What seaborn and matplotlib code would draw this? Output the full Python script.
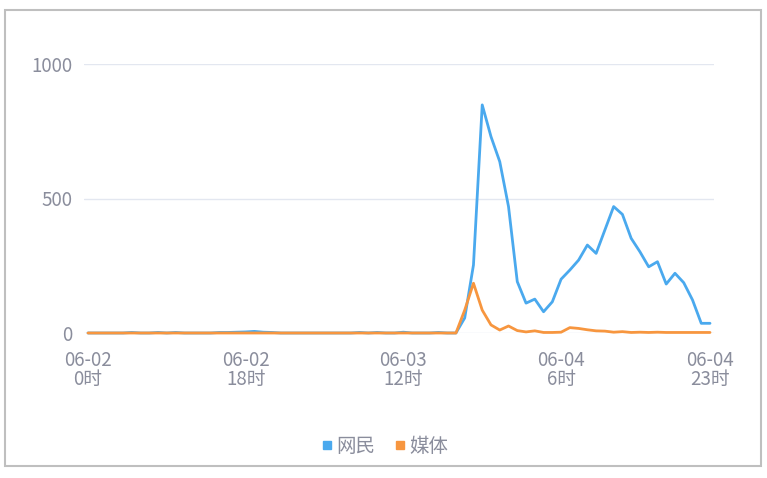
import numpy as np
import pandas as pd
import matplotlib
matplotlib.use("Agg")
import matplotlib.pyplot as plt
from matplotlib.patches import Rectangle
from matplotlib.lines import Line2D
import seaborn as sns

# ---- data (hourly, 06-02 0时 .. 06-04 23时) ----
hours = list(range(72))
netizens = [0, 0, 0, 0, 0, 2, 0, 0, 2, 0, 2, 0, 0, 0, 0, 2, 2, 3, 4, 6,
            3, 2, 0, 0, 0, 0, 0, 0, 0, 0, 0, 2, 0, 2, 0, 0, 3, 0, 0, 0,
            2, 0, 0, 56, 253, 848, 730, 637, 470, 191, 111, 126, 79, 116, 200, 234,
            271, 327, 296, 383, 470, 441, 352, 302, 246, 265, 182, 222, 187, 123,
            36, 36]
media = [0] * 42 + [0, 85, 185, 85, 30, 11, 26, 9, 4, 8, 2, 2, 3, 20,
                    17, 12, 8, 7, 3, 5, 2, 3, 2, 3, 2, 2, 2, 2, 2, 2]
media = media[:72]
series_names = ["网民", "媒体"]
tick_positions = [0, 18, 36, 54, 71]
tick_labels = ["06-02\n0时", "06-02\n18时", "06-03\n12时", "06-04\n6时", "06-04\n23时"]
y_ticks = [0, 500, 1000]

df = pd.DataFrame({
    "hour": hours * 2,
    "value": netizens + media,
    "series": [series_names[0]] * 72 + [series_names[1]] * 72,
})

sns.set_theme(style="white")
plt.rcParams["font.family"] = ["Noto Sans CJK SC", "DejaVu Sans"]

colors = {"网民": "#4AA9EE", "媒体": "#F7963F"}
label_color = "#8A8D9C"

fig = plt.figure(figsize=(7.67, 4.78), dpi=100)
ax = fig.add_axes([83.6 / 767, (478 - 333) / 478, (714.4 - 83.6) / 767, (333 - 64) / 478])

sns.lineplot(data=df, x="hour", y="value", hue="series", palette=colors,
             linewidth=2.0, ax=ax, legend=False, estimator=None, sort=False)
for ln in ax.lines:
    ln.set_clip_on(False)
    ln.set_solid_joinstyle("round")

ax.set_xlim(-0.5, 71.5)
ax.set_ylim(0, 1000)
ax.set_yticks(y_ticks)
ax.set_xticks(tick_positions)
ax.set_xticklabels(tick_labels, linespacing=0.9)
ax.tick_params(axis="both", length=0, labelsize=13.5, labelcolor=label_color)
ax.tick_params(axis="y", pad=8)
ax.tick_params(axis="x", pad=12)
ax.set_xlabel("")
ax.set_ylabel("")
for s in ax.spines.values():
    s.set_visible(False)
for yv in y_ticks:
    ax.axhline(yv, color="#E3E7F0", lw=1.0, zorder=0)

handles = [Line2D([], [], marker="s", linestyle="none", markersize=6,
                  markerfacecolor=colors[n], markeredgecolor=colors[n]) for n in series_names]
fig.legend(handles, series_names, loc="center", bbox_to_anchor=(384 / 767, 1 - 446 / 478),
           ncol=2, frameon=False, fontsize=14, labelcolor=label_color,
           handletextpad=0.15, columnspacing=0.9, handlelength=0.7)

fig.patches.append(Rectangle((5 / 767, (478 - 466) / 478), 756 / 767, 456 / 478,
                             transform=fig.transFigure, fill=False,
                             edgecolor="#BFBFBF", lw=1.5))

fig.savefig("out.png", dpi=100)
